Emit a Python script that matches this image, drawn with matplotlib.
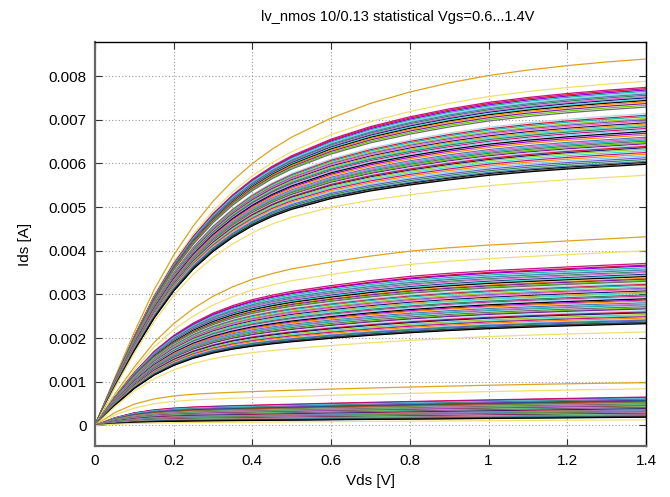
import numpy as np
import matplotlib
matplotlib.use('Agg')
from matplotlib import pyplot as plt
from matplotlib.ticker import FuncFormatter

plt.rcParams['font.family'] = ['Liberation Sans', 'DejaVu Sans']

# Vds sweep points [V]
vds = [0, 0.05, 0.1, 0.15, 0.2, 0.25, 0.3, 0.35, 0.4, 0.45, 0.5,
       0.6, 0.7, 0.8, 0.9, 1.0, 1.1, 1.2, 1.3, 1.4]

shape_hi_vgs14 = [0, 0.13, 0.255, 0.37, 0.465, 0.545, 0.612, 0.668, 0.715, 0.754, 0.787,
                  0.839, 0.879, 0.91, 0.935, 0.955, 0.97, 0.982, 0.992, 1.0]
shape_lo_vgs14 = [0, 0.15, 0.29, 0.415, 0.52, 0.605, 0.672, 0.726, 0.77, 0.805, 0.832,
                  0.872, 0.9, 0.922, 0.941, 0.958, 0.971, 0.982, 0.991, 1.0]
shape_hi_vgs10 = [0, 0.165, 0.31, 0.44, 0.54, 0.62, 0.685, 0.735, 0.775, 0.805, 0.83,
                  0.866, 0.898, 0.924, 0.942, 0.956, 0.967, 0.978, 0.989, 1.0]
shape_lo_vgs10 = [0, 0.2, 0.37, 0.5, 0.595, 0.665, 0.715, 0.752, 0.78, 0.802, 0.822,
                  0.856, 0.885, 0.91, 0.932, 0.951, 0.966, 0.979, 0.99, 1.0]
shape_hi_vgs06 = [0, 0.3, 0.5, 0.62, 0.69, 0.73, 0.755, 0.775, 0.792, 0.808, 0.822,
                  0.85, 0.875, 0.898, 0.92, 0.94, 0.958, 0.974, 0.988, 1.0]
shape_lo_vgs06 = [0, 0.22, 0.36, 0.44, 0.49, 0.525, 0.55, 0.57, 0.59, 0.612, 0.635,
                  0.68, 0.72, 0.76, 0.80, 0.84, 0.88, 0.92, 0.96, 1.0]

# Ids at Vds=1.4V per Monte Carlo sample [mA] (same sample order in every family)
isat_vgs14 = [8.39, 7.88,
              7.74, 7.71, 7.68, 7.65, 7.62, 7.59, 7.56, 7.53, 7.50, 7.47, 7.44, 7.41, 7.37, 7.33, 7.29,
              7.14, 7.10, 7.07, 7.03, 7.00, 6.97, 6.93, 6.90, 6.87, 6.84, 6.80, 6.77, 6.73, 6.69, 6.65,
              6.60, 6.57, 6.54, 6.51, 6.48, 6.45, 6.42, 6.39, 6.36, 6.33, 6.29, 6.25, 6.21, 6.17, 6.13,
              6.09, 6.05, 6.02, 6.00, 5.98,
              5.73]
isat_vgs10 = [4.32, 4.00,
              3.71, 3.67, 3.65, 3.61, 3.58, 3.56, 3.52, 3.50, 3.46, 3.44, 3.41, 3.37, 3.35, 3.32, 3.30,
              3.26, 3.23, 3.21, 3.17, 3.14, 3.12, 3.08, 3.05, 3.03, 2.99, 2.96, 2.94, 2.90, 2.87, 2.85,
              2.81, 2.78, 2.76, 2.72, 2.69, 2.67, 2.63, 2.60, 2.58, 2.54, 2.51, 2.49, 2.46, 2.43, 2.41,
              2.39, 2.37, 2.35, 2.34, 2.33,
              2.14]
isat_vgs06 = [0.98, 0.84,
              0.65, 0.64, 0.63, 0.62, 0.61, 0.60, 0.59, 0.58, 0.57, 0.555, 0.55, 0.54, 0.53, 0.52, 0.51,
              0.50, 0.49, 0.48, 0.47, 0.46, 0.45, 0.44, 0.43, 0.42, 0.41, 0.40, 0.39, 0.38, 0.37, 0.36,
              0.35, 0.34, 0.33, 0.32, 0.31, 0.30, 0.29, 0.28, 0.27, 0.26, 0.25, 0.24, 0.23, 0.225, 0.22,
              0.215, 0.21, 0.20, 0.195, 0.19,
              0.13]

# one colour per Monte Carlo sample
colors = ['#DAA520', '#F0E070',
          '#C71585', '#DC143C', '#9400D3', '#20B2AA', '#87CEEB', '#4682B4', '#2E8B57', '#DA70D6', '#1F1F7A', '#40E0D0',
          '#000000', '#FF8C00', '#7B1FA2', '#66CD00', '#6E6E6E', '#ADD8E6', '#DC143C', '#20B2AA', '#9ACD32', '#6A5ACD',
          '#FF69B4', '#1F1F7A', '#DAA520', '#40E0D0', '#2E8B57', '#C71585', '#87CEEB', '#000000', '#9400D3', '#FF8C00',
          '#4682B4', '#DA70D6', '#20B2AA', '#6E6E6E', '#66CD00', '#7B1FA2', '#ADD8E6', '#DC143C', '#1F1F7A', '#9ACD32',
          '#40E0D0', '#C71585', '#FF8C00', '#87CEEB', '#6A5ACD', '#2E8B57', '#4682B4', '#000000', '#6E6E6E', '#000000',
          '#F0E070']

families = [(isat_vgs14, shape_hi_vgs14, shape_lo_vgs14),
            (isat_vgs10, shape_hi_vgs10, shape_lo_vgs10),
            (isat_vgs06, shape_hi_vgs06, shape_lo_vgs06)]

fig = plt.figure(figsize=(6.7, 4.97), dpi=100)
ax = fig.add_axes([0.1418, 0.1026, 0.8224, 0.8129])

x = np.array(vds)
for isat, hi, lo in families:
    isat = np.array(isat) * 1e-3
    hi = np.array(hi)
    lo = np.array(lo)
    top, bot = isat.max(), isat.min()
    for i in range(len(isat)):
        # blend between the weakest and strongest curve shape
        t = (isat[i] - bot) / (top - bot)
        shape = lo + t * (hi - lo)
        ax.plot(x, isat[i] * shape, color=colors[i], lw=0.9)

ax.set_xlim(0, 1.4)
ax.set_ylim(-0.00047, 0.00878)
ax.set_xticks(np.arange(0, 1.41, 0.2))
ax.set_yticks(np.arange(0, 0.00801, 0.001))
fmt = FuncFormatter(lambda v, p: '%g' % round(v, 6))
ax.xaxis.set_major_formatter(fmt)
ax.yaxis.set_major_formatter(fmt)
ax.tick_params(direction='in', top=True, right=True, length=5, labelsize=11,
               color='#333333', pad=6)
ax.grid(True, color='#999999', linestyle=(0, (1, 2)), linewidth=0.8)

for side in ['left', 'bottom']:
    ax.spines[side].set_color('#666666')
    ax.spines[side].set_linewidth(1.6)
for side in ['top', 'right']:
    ax.spines[side].set_color('black')
    ax.spines[side].set_linewidth(1.0)

ax.set_xlabel('Vds [V]', fontsize=11, labelpad=4)
ax.set_ylabel('Ids [A]', fontsize=11, labelpad=12)
fig.text(0.594, 1 - 17 / 497, 'lv_nmos 10/0.13 statistical Vgs=0.6...1.4V',
         ha='center', va='center', fontsize=10.5)

fig.savefig('out.png', dpi=100)
